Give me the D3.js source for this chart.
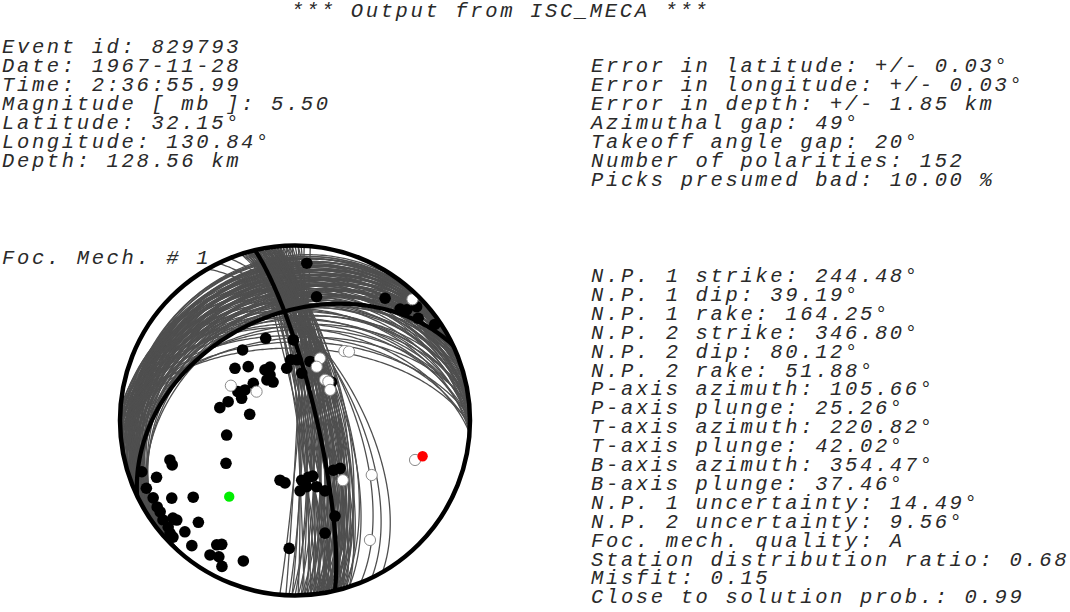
<!DOCTYPE html>
<html><head><meta charset="utf-8">
<script src="https://cdn.jsdelivr.net/npm/d3@7"></script>
<style>
html,body{margin:0;padding:0;background:#fff;}
svg{display:block;}
text{font-family:"Liberation Mono",monospace;font-style:italic;font-size:20.5px;letter-spacing:2.64px;fill:#2a2a2a;white-space:pre;}
</style></head><body>
<svg id="chart" width="1070" height="612"></svg>
<script>
// ---------- texts ----------
const titleText = "*** Output from ISC_MECA ***";
const eventLines = [
  "Event id: 829793",
  "Date: 1967-11-28",
  "Time: 2:36:55.99",
  "Magnitude [ mb ]: 5.50",
  "Latitude: 32.15°",
  "Longitude: 130.84°",
  "Depth: 128.56 km"
];
const errorLines = [
  "Error in latitude: +/- 0.03°",
  "Error in longitude: +/- 0.03°",
  "Error in depth: +/- 1.85 km",
  "Azimuthal gap: 49°",
  "Takeoff angle gap: 20°",
  "Number of polarities: 152",
  "Picks presumed bad: 10.00 %"
];
const mechLabel = "Foc. Mech. # 1";
const paramLines = [
  "N.P. 1 strike: 244.48°",
  "N.P. 1 dip: 39.19°",
  "N.P. 1 rake: 164.25°",
  "N.P. 2 strike: 346.80°",
  "N.P. 2 dip: 80.12°",
  "N.P. 2 rake: 51.88°",
  "P-axis azimuth: 105.66°",
  "P-axis plunge: 25.26°",
  "T-axis azimuth: 220.82°",
  "T-axis plunge: 42.02°",
  "B-axis azimuth: 354.47°",
  "B-axis plunge: 37.46°",
  "N.P. 1 uncertainty: 14.49°",
  "N.P. 2 uncertainty: 9.56°",
  "Foc. mech. quality: A",
  "Station distribution ratio: 0.68",
  "Misfit: 0.15",
  "Close to solution prob.: 0.99"
];

// ---------- best solution ----------
const npStrikes = [244.48, 346.80];
const npDips = [39.19, 80.12];
const axisNames = ["P", "T"];
const axisAzimuths = [105.66, 220.82];
const axisPlunges = [25.26, 42.02];

// ---------- acceptable alternative solutions ----------
const altStrikes1 = [
  218,222,226,230,234,
  220,224,228,232,236,240,244,248,
  221,225,229,233,237,241,245,249,
  223,227,231,235,239,243,247,251,
  225,229,233,237,241,245,249,
  227,231,235,239,243,247,251,
  229,233,237,241,245,249,
  231,235,239,243,247,251,
  234,238,242,246,250,
  237,241,245,249,252,
  256,262,268,
  256,260,264,268,272,
  254,258,262,266,270,274,
  255,259,263,267,271,
  256,260,264,268,272,
  258,262,266,270,274,
  260,264,268,272,
  262,266,270,274,
  265,269,272,271];
const altDips1 = [
  10,11,10,11,10,
  14,13,14,13,14,13,14,13,
  17,16,17,16,17,16,17,16,
  20,19,20,19,20,19,20,19,
  23,22,23,22,23,22,23,
  26,25,26,25,26,25,26,
  29,28,29,28,29,28,
  32,31,32,31,32,31,
  35,34,35,34,35,
  38,37,38,39,37,
  17,16,18,
  21,20,22,20,21,
  25,24,26,24,25,26,
  29,28,30,28,29,
  33,32,34,32,33,
  37,36,38,37,36,
  41,40,42,41,
  45,47,44,46,
  51,53,50,56];
const altStrikes2 = [
  342,344,346,348,350,
  343,345,347,349,351,353,
  342,344,346,348,350,352,354,
  343,345,347,349,351,353,355,
  344,346,348,350,352,354,356,358,
  345,347,349,351,353,355,357,359,1,
  346,348,350,352,354,356,358,0,2,
  347,349,351,353,355,357,359,1,3,5,
  346,348,350,352,354,345,347,349,351,353,355,357,344,348,350,352,
  330,334,338];
const altDips2 = [
  67,66,68,66,67,
  70,69,71,70,69,71,
  73,72,74,73,72,74,73,
  76,75,77,76,75,77,76,
  79,78,80,79,78,80,79,78,
  82,81,83,82,81,83,82,81,82,
  85,84,86,85,84,86,85,84,86,
  88,87,89,88,87,89,88,87,89,88,
  70,72,74,76,78,73,75,77,79,74,80,76,78,69,71,70,
  60,62,63];

// ---------- polarities (azimuth, takeoff angle) ----------
const compAz = [4.3,9.9,36.4,43.3,45.3,46.9,50.3,55.5,340.4,358.8,323.4,311.0,319.0,329.3,335.0,325.3,330.3,331.2,
  355.9,1.9,14.3,351.0,8.1,311.7,296.8,301.4,292.6,285.7,279.7,277.8,258.0,238.2,252.5,250.1,251.5,247.7,245.5,
  194.1,189.1,237.8,233.0,241.4,237.9,235.9,233.0,230.0,231.4,229.9,228.0,226.3,223.5,224.7,219.5,212.2,210.6,
  212.3,209.2,206.6,200.2,182.6,173.6,166.8,162.3,175.9,170.0,161.9,156.9,142.3,136.7,157.3,165.1,43.6];
const compToa = [79.2,61.0,75.7,76.5,78.9,84.6,80.6,86.5,41.3,38.0,41.6,37.5,33.5,27.5,27.6,23.0,20.6,24.2,
  28.5,28.4,28.5,24.7,22.3,26.1,30.0,27.4,27.0,32.6,35.9,21.3,32.8,38.3,64.0,63.7,81.5,74.4,82.6,
  28.8,29.6,72.1,62.0,81.5,82.2,82.3,83.8,84.0,78.3,77.3,85.6,86.0,69.1,78.5,81.9,72.8,71.1,
  80.0,78.2,82.5,74.4,62.3,28.1,27.3,27.3,33.1,31.5,32.7,36.0,29.4,30.8,49.5,56.2,24.8];
const dilAz = [44.1,35.4,38.1,21.9,22.0,36.5,40.6,48.9,298.5,306.9,141.3,125.4,108.2,147.9];
const dilToa = [86.0,40.3,41.4,31.4,27.1,23.6,23.9,21.7,34.3,22.4,36.0,44.7,61.4,69.5];

// ---------- drawing ----------
const svg = d3.select("#chart");
const rad = Math.PI / 180;
const cx = 295, cy = 420.5, R = 175;
const x = d3.scaleLinear().domain([-1, 1]).range([cx - R, cx + R]);
const y = d3.scaleLinear().domain([-1, 1]).range([cy + R, cy - R]);

// Lambert equal-area, lower hemisphere
function projVec(E, N, D) { const k = 1 / Math.sqrt(1 + Math.max(0, D)); return [E * k, N * k]; }
function planePoints(strike, dip) {
  const s = strike * rad, d = dip * rad, dd = s + Math.PI / 2;
  const sv = [Math.sin(s), Math.cos(s), 0];
  const dv = [Math.cos(d) * Math.sin(dd), Math.cos(d) * Math.cos(dd), Math.sin(d)];
  const pts = [];
  for (let t = 0; t <= 180; t += 1) {
    const c = Math.cos(t * rad), sn = Math.sin(t * rad);
    pts.push(projVec(c * sv[0] + sn * dv[0], c * sv[1] + sn * dv[1], c * sv[2] + sn * dv[2]));
  }
  return pts;
}
function azToa(az, toa) {
  const r = Math.SQRT2 * Math.sin(toa * rad / 2);
  return [r * Math.sin(az * rad), r * Math.cos(az * rad)];
}
const line = d3.line().x(p => x(p[0])).y(p => y(p[1]));

svg.append("defs").append("clipPath").attr("id", "ballClip")
  .append("circle").attr("cx", x(0)).attr("cy", y(0)).attr("r", x(1) - x(0));

const ball = svg.append("g").attr("clip-path", "url(#ballClip)");

const altPlanes = altStrikes1.map((s, i) => [s, altDips1[i]])
  .concat(altStrikes2.map((s, i) => [s, altDips2[i]]));
ball.append("g").selectAll("path").data(altPlanes).join("path")
  .attr("d", p => line(planePoints(p[0], p[1])))
  .attr("fill", "none").attr("stroke", "#4f4f4f").attr("stroke-width", 1.3);

ball.append("g").selectAll("path").data(npStrikes).join("path")
  .attr("d", (s, i) => line(planePoints(s, npDips[i])))
  .attr("fill", "none").attr("stroke", "#000").attr("stroke-width", 4.2);

const comps = compAz.map((a, i) => azToa(a, compToa[i]));
const dils = dilAz.map((a, i) => azToa(a, dilToa[i]));
svg.append("g").selectAll("circle").data(comps).join("circle")
  .attr("cx", p => x(p[0])).attr("cy", p => y(p[1])).attr("r", 5.8).attr("fill", "#000");
svg.append("g").selectAll("circle").data(dils).join("circle")
  .attr("cx", p => x(p[0])).attr("cy", p => y(p[1])).attr("r", 5.6)
  .attr("fill", "#fff").attr("stroke", "#8a8a8a").attr("stroke-width", 1);

const axisColor = {P: "#ff0000", T: "#00ee00"};
svg.append("g").selectAll("circle").data(axisNames).join("circle")
  .attr("cx", (n, i) => x(azToa(axisAzimuths[i], 90 - axisPlunges[i])[0]))
  .attr("cy", (n, i) => y(azToa(axisAzimuths[i], 90 - axisPlunges[i])[1]))
  .attr("r", 5.2).attr("fill", n => axisColor[n]);

svg.append("circle").attr("cx", x(0)).attr("cy", y(0)).attr("r", x(1) - x(0))
  .attr("fill", "none").attr("stroke", "#000").attr("stroke-width", 4.5);

// texts
svg.append("text").attr("x", 291).attr("y", 17).text(titleText);
svg.append("g").selectAll("text").data(eventLines).join("text")
  .attr("x", 2).attr("y", (d, i) => 53 + i * 19).text(d => d);
svg.append("g").selectAll("text").data(errorLines).join("text")
  .attr("x", 591).attr("y", (d, i) => 72 + i * 19).text(d => d);
svg.append("text").attr("x", 2).attr("y", 264).text(mechLabel);
svg.append("g").selectAll("text").data(paramLines).join("text")
  .attr("x", 591).attr("y", (d, i) => 282 + i * 18.9).text(d => d);
</script>
</body></html>
